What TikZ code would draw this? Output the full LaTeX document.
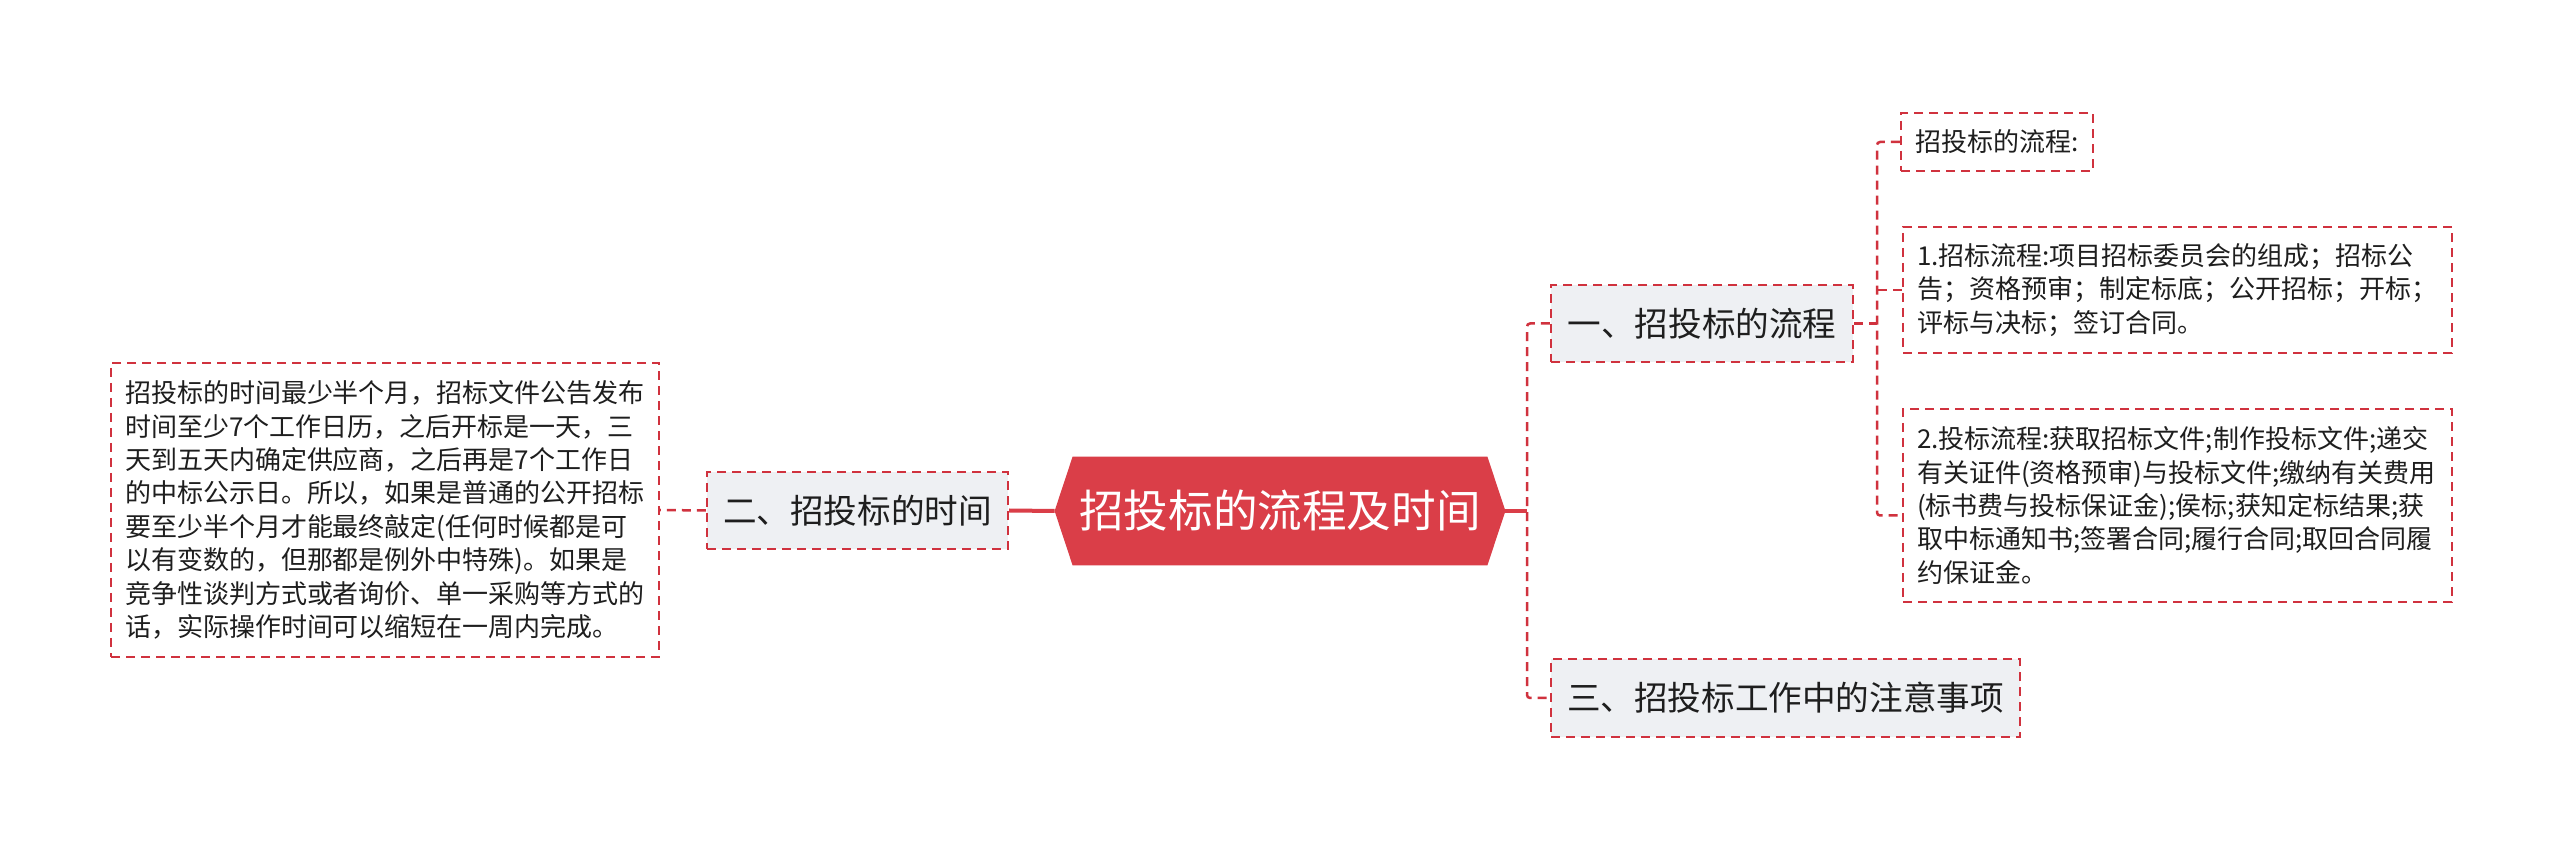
\documentclass[tikz,border=0pt]{standalone}
\usepackage{fontspec}
\setmainfont{Noto Sans CJK SC}
\usetikzlibrary{calc,backgrounds}
\definecolor{rootred}{HTML}{DA3E48}
\definecolor{linered}{HTML}{D0323E}
\definecolor{boxgray}{HTML}{EEF0F3}
\definecolor{txt}{HTML}{1E1E1E}
\begin{document}
\begin{tikzpicture}[x=0.5pt,y=-0.5pt,
  rootnode/.style={minimum width=207pt, minimum height=54pt, inner sep=0pt, text=white, font=\fontsize{22.3}{26}\selectfont},
  topic/.style={draw=linered, line width=1.2pt, dash pattern=on 4.5pt off 3pt, fill=boxgray, text=txt, inner sep=0pt, font=\fontsize{16.8}{20}\selectfont},
  leaf/.style={draw=linered, line width=1.2pt, dash pattern=on 4.5pt off 3pt, fill=white, text=txt, inner xsep=7pt, inner ysep=0pt, align=left, font=\fontsize{13}{16.7}\selectfont},
  dashlink/.style={draw=linered, line width=1.25pt, dash pattern=on 4.5pt off 3pt, rounded corners=1.5pt},
  solidlink/.style={draw=rootred, line width=2pt}
]
\path[use as bounding box] (0,0) rectangle (2560,849);

% nodes
\node[rootnode] (root) at (1280,511) {招投标的流程及时间};
\coordinate (rootL) at ($(root.west)+(-18,0)$);
\coordinate (rootR) at ($(root.east)+(18,0)$);
\coordinate (hub) at (1527,511);
\coordinate (hub2) at (1877,323);

\node[topic, minimum width=150.5pt, minimum height=38.5pt] (t2) at (857.5,510.5) {二、招投标的时间};
\node[topic, minimum width=151pt, minimum height=38.5pt] (t1) at (1702,323.5) {一、招投标的流程};
\node[topic, minimum width=234.5pt, minimum height=39pt] (t3) at (1785.5,698) {三、招投标工作中的注意事项};

\node[leaf, text width=260pt, minimum height=147pt] (d2) at (385,510) {招投标的时间最少半个月，招标文件公告发布\\
时间至少7个工作日历，之后开标是一天，三\\
天到五天内确定供应商，之后再是7个工作日\\
的中标公示日。所以，如果是普通的公开招标\\
要至少半个月才能最终敲定(任何时候都是可\\
以有变数的，但那都是例外中特殊)。如果是\\
竞争性谈判方式或者询价、单一采购等方式的\\
话，实际操作时间可以缩短在一周内完成。};

\node[leaf, minimum width=96pt, minimum height=29pt] (c0) at (1997,142) {招投标的流程:};
\node[leaf, text width=260.5pt, minimum height=63pt] (c1) at (2177.5,290) {1.招标流程:项目招标委员会的组成；招标公\\
告；资格预审；制定标底；公开招标；开标；\\
评标与决标；签订合同。};
\node[leaf, text width=260.5pt, minimum height=96.5pt] (c2) at (2177.5,505.5) {2.投标流程:获取招标文件;制作投标文件;递交\\
有关证件(资格预审)与投标文件;缴纳有关费用\\
(标书费与投标保证金);侯标;获知定标结果;获\\
取中标通知书;签署合同;履行合同;取回合同履\\
约保证金。};

% root shape
\begin{scope}[on background layer]
\fill[white] (0,0) rectangle (2560,849);
\fill[rootred] (rootL) -- (root.north west) -- (root.north east) -- (rootR) -- (root.south east) -- (root.south west) -- cycle;
\end{scope}

% connectors
\draw[solidlink] (rootL) -- (t2.east);
\draw[dashlink] (t2.west) -- (d2.east);
\draw[solidlink] (rootR) -- (hub);
\draw[dashlink] (t1.west) -- (t1.west -| hub) -- (t3.west -| hub) -- (t3.west);
\draw[dashlink] (t1.east) -- (t1.east -| hub2);
\draw[dashlink] (c0.west) -- (c0.west -| hub2) -- ($(c2.west -| hub2)+(0,10)$) -- ($(c2.west)+(0,10)$);
\draw[dashlink] (c1.west) -- (c1.west -| hub2);
\end{tikzpicture}
\end{document}
